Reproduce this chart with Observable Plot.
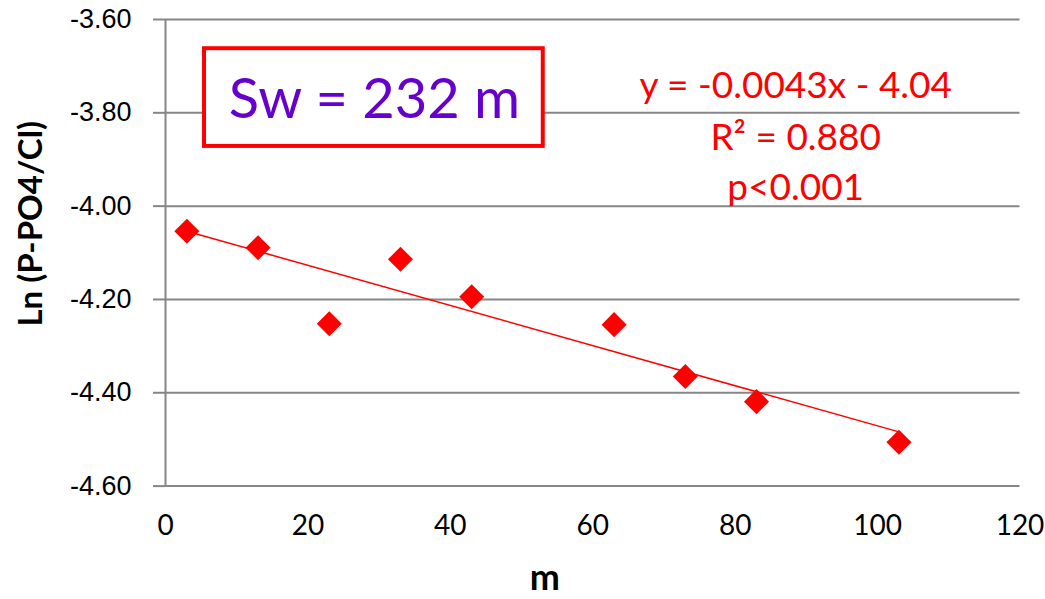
<!DOCTYPE html>
<html><head><meta charset="utf-8">
<script src="https://cdn.jsdelivr.net/npm/d3@7"></script>
<script src="https://cdn.jsdelivr.net/npm/@observablehq/plot@0.6"></script>
<style>body{margin:0;background:#fff} svg{display:block}</style>
</head><body><div id="chart"></div>
<script>
// Data
const distance = [3, 13, 23, 33, 43, 63, 73, 83, 103];
const lnRatio = [-4.054, -4.089, -4.252, -4.114, -4.194, -4.254, -4.365, -4.419, -4.506];
const xTicks = [0, 20, 40, 60, 80, 100, 120];
const yTicks = [-4.6, -4.4, -4.2, -4.0, -3.8, -3.6];
const xTitle = "m";
const yTitle = "Ln (P-PO4/Cl)";
const boxLabel = ["Sw = 232 m"];
const boxLabelPos = [{x: 29.35, y: -3.812}];
const boxExtent = [{x1: 5.48, x2: 53.05, y1: -3.6626, y2: -3.872}];
const eqLines = ["y = -0.0043x - 4.04", "R\u00B2 = 0.880", "p<0.001"];
const eqX = [88.5, 88.5, 88.5];
const eqY = [-3.7691, -3.8806, -3.9878];

const data = distance.map((d, i) => ({x: d, y: lnRatio[i]}));
const boxData = boxExtent;
const labelData = boxLabel.map((t, i) => ({t, ...boxLabelPos[i]}));
const eqData = eqLines.map((t, i) => ({t, x: eqX[i], y: eqY[i]}));

const gray = "#868686";
const chart = Plot.plot({
  width: 1045,
  height: 599,
  marginLeft: 165,
  marginRight: 25.5,
  marginTop: 19,
  marginBottom: 113.4,
  x: {domain: [0, 120]},
  y: {domain: [-4.6, -3.6]},
  style: {background: "#fff", overflow: "visible"},
  marks: [
    Plot.ruleY(yTicks, {stroke: gray, strokeWidth: 2}),
    Plot.ruleX([0], {y1: -4.6, y2: -3.6, stroke: gray, strokeWidth: 2}),
    Plot.axisY({ticks: yTicks, tickSize: 12, tickPadding: 22, tickFormat: d => d.toFixed(2),
      stroke: gray, strokeWidth: 2, fill: "#000", fontSize: 27, fontFamily: "Liberation Sans", label: null}),
    Plot.axisX({ticks: xTicks, tickSize: 0, tickPadding: 29, tickFormat: d => String(d),
      fill: "#000", fontSize: 28, fontFamily: "Lato", label: null}),
    Plot.text([yTitle], {frameAnchor: "left", textAnchor: "middle", lineAnchor: "middle", rotate: -90, dx: -134, dy: -29,
      fontSize: 33, fontWeight: "bold", fontFamily: "Lato", fill: "#000"}),
    Plot.text([xTitle], {frameAnchor: "bottom", lineAnchor: "bottom", dx: -48, dy: 104,
      fontSize: 36, fontWeight: "bold", fontFamily: "Lato", fill: "#000"}),
    Plot.rect(boxData, {x1: "x1", x2: "x2", y1: "y1", y2: "y2", fill: "#fff", stroke: "#ff0000", strokeWidth: 4}),
    Plot.text(labelData, {x: "x", y: "y", text: "t", lineAnchor: "bottom", fill: "#6600cc",
      fontSize: 56, fontFamily: "Lato"}),
    Plot.text(eqData, {x: "x", y: "y", text: "t", lineAnchor: "bottom", fill: "#ff0000",
      fontSize: 37, fontFamily: "Lato"}),
    Plot.linearRegressionY(data, {x: "x", y: "y", stroke: "#ff0000", strokeWidth: 1.5, ci: 0}),
    Plot.dot(data, {x: "x", y: "y", symbol: "square", r: 10, rotate: 45, fill: "#ff0000", stroke: "none"})
  ]
});
document.getElementById("chart").appendChild(chart);
</script>
</body></html>
